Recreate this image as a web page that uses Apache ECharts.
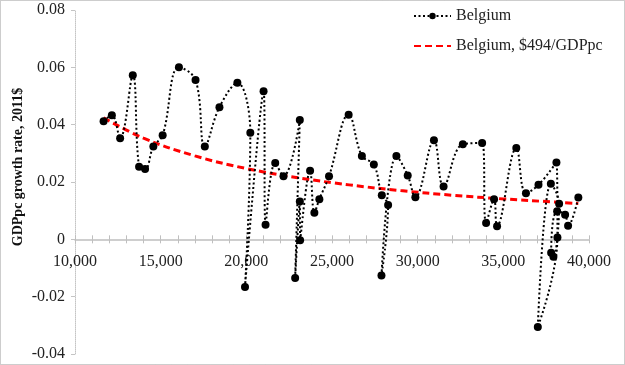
<!DOCTYPE html>
<html>
<head>
<meta charset="utf-8">
<script src="https://cdn.jsdelivr.net/npm/echarts@6/dist/echarts.min.js"></script>
<style>html,body{margin:0;padding:0;background:#fff}#c{width:625px;height:365px}</style>
</head>
<body>
<div id="c"></div>
<script>
var gdppc = [11669,12151,12634,13372,13740,14090,14573,15116,16066,17035,17577,18430,19477,20233,19922,21006,21122,21686,22169,23122,22849,23122,23140,23721,23971,24262,24826,25971,26744,27442,27907,28275,27887,28759,29419,29866,30950,31512,32636,33762,33994,34459,34634,35756,36320,37052,38099,38157,37012,37773,38256,37924,37791,38140,38605,38779,39378];
var growth = [0.0412,0.0433,0.0353,0.0572,0.0253,0.0245,0.0324,0.0363,0.0600,0.0556,0.0324,0.0461,0.0546,0.0372,-0.0166,0.0517,0.0051,0.0266,0.0220,0.0416,-0.0135,0.0132,-0.0003,0.0239,0.0093,0.0140,0.0220,0.0435,0.0291,0.0261,0.0154,0.0120,-0.0126,0.0291,0.0223,0.0147,0.0346,0.0184,0.0332,0.0336,0.0057,0.0140,0.0046,0.0319,0.0161,0.0190,0.0268,0.0006,-0.0306,0.0194,0.0124,-0.0061,-0.0047,0.0098,0.0086,0.0047,0.0146];
var fitX = [11669,14000,17000,20000,23000,26000,29000,32000,35000,38000,39378];
var fitY = [0.0424,0.0353,0.0291,0.0247,0.0215,0.0190,0.0170,0.0154,0.0141,0.0130,0.0125];
var seriesNames = ['Belgium', 'Belgium, $494/GDPpc'];
var yTitle = 'GDPpc growth rate, 2011$';

var FONT = 'Liberation Serif';
var GRID_TOP = 10, GRID_BOTTOM = 11, H = 365;
var Y_MIN = -0.04, Y_MAX = 0.08;
var plotH = H - GRID_TOP - GRID_BOTTOM;
// move the x axis up from the grid bottom to the y=0 line
var zeroOffset = -plotH * (0 - Y_MIN) / (Y_MAX - Y_MIN);

var chart = echarts.init(document.getElementById('c'), null, {renderer: 'canvas'});
function pairs(xs, ys) { return xs.map(function (x, i) { return [x, ys[i]]; }); }
var axisCol = '#bfbfbf';
chart.setOption({
  animation: false,
  backgroundColor: '#fff',
  grid: {left: 75, right: 36, top: GRID_TOP, bottom: GRID_BOTTOM, containLabel: false, outerBoundsMode: 'none'},
  legend: [
    {data: [seriesNames[0]], orient: 'vertical', left: 413, top: 8, padding: 0, itemWidth: 37, itemHeight: 8,
     textStyle: {fontFamily: FONT, fontSize: 16, color: '#222'}},
    {data: [{name: seriesNames[1], itemStyle: {opacity: 0}}], orient: 'vertical', left: 413, top: 38, padding: 0, itemWidth: 37, itemHeight: 8,
     textStyle: {fontFamily: FONT, fontSize: 16, color: '#222'}}
  ],
  xAxis: [{
    type: 'value', min: 10000, max: 40000, interval: 5000, position: 'bottom', offset: zeroOffset,
    axisLine: {show: true, onZero: false, lineStyle: {color: axisCol, width: 1.5}},
    axisTick: {show: true, length: 4, lineStyle: {color: axisCol}},
    minorTick: {show: true, splitNumber: 5, length: 4, lineStyle: {color: axisCol}},
    splitLine: {show: false},
    axisLabel: {fontFamily: FONT, fontSize: 16, color: '#222', margin: 14}
  }, {
    type: 'value', min: 10000, max: 40000, interval: 5000, position: 'bottom', offset: zeroOffset,
    axisLine: {show: false, onZero: false},
    axisTick: {show: true, inside: true, length: 4, lineStyle: {color: axisCol}},
    minorTick: {show: true, splitNumber: 5, length: 4, lineStyle: {color: axisCol}},
    splitLine: {show: false},
    axisLabel: {show: false}
  }],
  yAxis: [{
    type: 'value', min: Y_MIN, max: Y_MAX, interval: 0.02,
    axisLine: {show: true, onZero: false, lineStyle: {color: '#c4c4c4', width: 1, type: [1, 1]}},
    axisTick: {show: true, length: 4, lineStyle: {color: '#c4c4c4'}},
    splitLine: {show: false},
    axisLabel: {fontFamily: FONT, fontSize: 16, color: '#222', margin: 10}
  }],
  graphic: [
    {type: 'rect', shape: {x: 0.5, y: 0.5, width: 624, height: 364}, style: {fill: 'none', stroke: '#9a9a9a', lineWidth: 1, lineDash: [1, 1]}, silent: true},
    {type: 'text', x: 18, y: 167, rotation: Math.PI / 2,
     style: {text: yTitle, font: 'bold 14px "' + FONT + '"', fill: '#111', textAlign: 'center', textVerticalAlign: 'middle'}}
  ],
  series: [{
    name: seriesNames[0], type: 'line', data: pairs(gdppc, growth),
    smooth: 0.4, symbol: 'circle', symbolSize: 8,
    itemStyle: {color: '#000'},
    lineStyle: {color: '#000', width: 2, type: [2, 2.5]},
    z: 3
  }, {
    name: seriesNames[1], type: 'line', data: pairs(fitX, fitY),
    smooth: 0.4, symbol: 'none',
    itemStyle: {color: '#ff0000'},
    lineStyle: {color: '#ff0000', width: 3, type: [7, 4]},
    z: 2
  }]
});
</script>
</body>
</html>
